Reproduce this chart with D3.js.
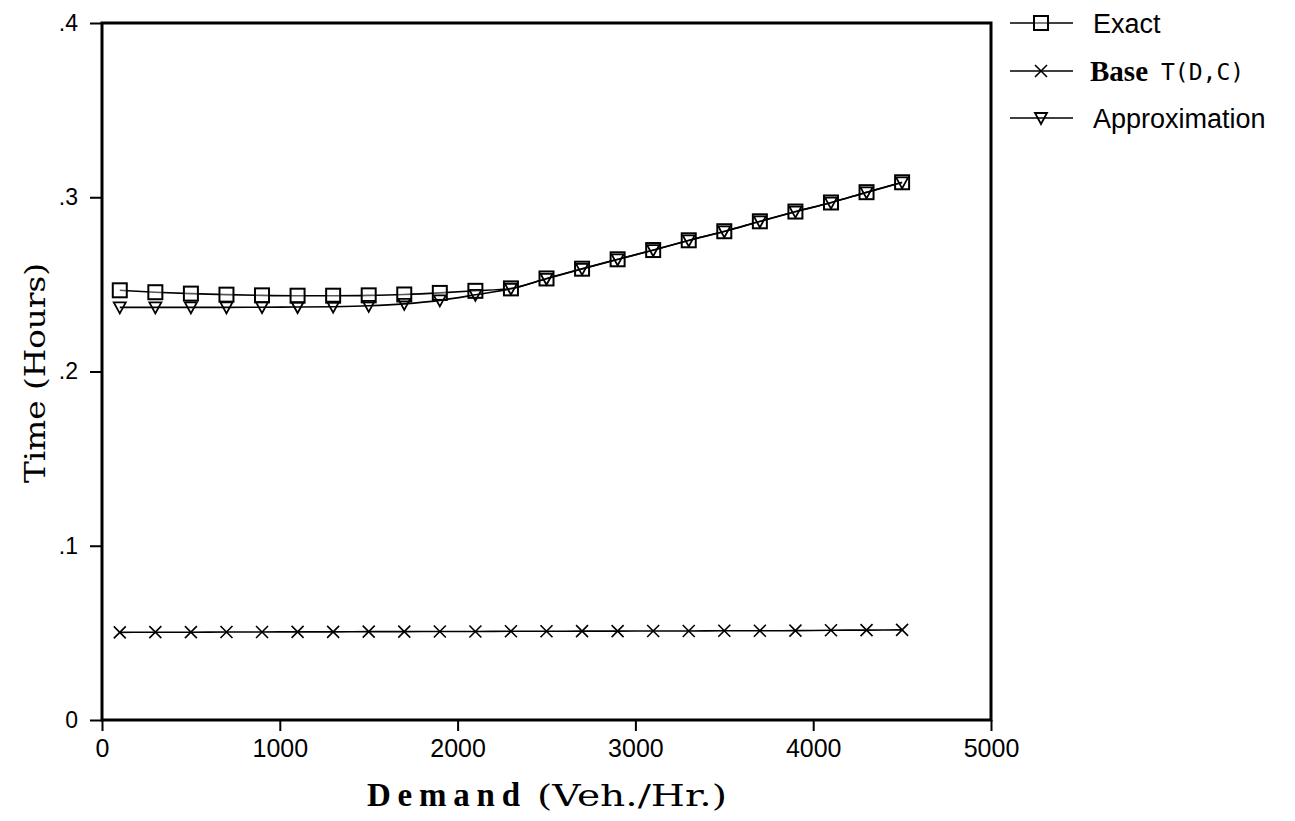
<!DOCTYPE html>
<html>
<head>
<meta charset="utf-8">
<script src="https://cdn.jsdelivr.net/npm/d3@7"></script>
<style>
  body { margin: 0; background: #fff; }
  svg { display: block; }
</style>
</head>
<body>
<div class="container"></div>
<script>
// values
var demand = [100, 300, 500, 700, 900, 1100, 1300, 1500, 1700, 1900, 2100, 2300,
              2500, 2700, 2900, 3100, 3300, 3500, 3700, 3900, 4100, 4300, 4500];
var exact = [0.2466, 0.2455, 0.2447, 0.2441, 0.2437, 0.2435, 0.2435, 0.2437, 0.2442, 0.2451, 0.2463, 0.2477,
             0.2534, 0.2590, 0.2644, 0.2697, 0.2753, 0.2805, 0.2862, 0.2918, 0.2970, 0.3029, 0.3086];
var approx = [0.2368, 0.2368, 0.2368, 0.2368, 0.2369, 0.2370, 0.2372, 0.2377, 0.2388, 0.2408, 0.2440, 0.2475,
              0.2532, 0.2589, 0.2643, 0.2696, 0.2752, 0.2804, 0.2861, 0.2917, 0.2969, 0.3028, 0.3085];
var base = [0.0503, 0.0504, 0.0504, 0.0505, 0.0505, 0.0506, 0.0506, 0.0507, 0.0507, 0.0508, 0.0508, 0.0509,
            0.0509, 0.0510, 0.0510, 0.0511, 0.0511, 0.0512, 0.0512, 0.0513, 0.0515, 0.0516, 0.0517];
var xTicks = [0, 1000, 2000, 3000, 4000, 5000];
var xTickLabels = ["0", "1000", "2000", "3000", "4000", "5000"];
var yTicks = [0, 0.1, 0.2, 0.3, 0.4];
var yTickLabels = ["0", ".1", ".2", ".3", ".4"];

!function () {
    var W = 1295, H = 821;
    var svg = d3.select('.container')
        .append('svg')
        .attr('width', W)
        .attr('height', H);

    var x = d3.scaleLinear().domain([0, 5000]).range([102, 991]);
    var y = d3.scaleLinear().domain([0, 0.4]).range([720, 23]);

    // axes (ticks only, frame drawn separately)
    var xAxis = d3.axisBottom(x)
        .tickValues(xTicks)
        .tickFormat(function (d, i) { return xTickLabels[i]; })
        .tickSize(11)
        .tickPadding(8);
    var gx = svg.append('g')
        .attr('transform', 'translate(0,720)')
        .call(xAxis);
    gx.select('.domain').remove();
    gx.selectAll('line').attr('stroke', '#000').attr('stroke-width', 2);
    gx.selectAll('text')
        .attr('fill', '#000')
        .style('font-family', '"Liberation Sans", Arial, sans-serif')
        .style('font-size', '25px');

    var yAxis = d3.axisLeft(y)
        .tickValues(yTicks)
        .tickFormat(function (d, i) { return yTickLabels[i]; })
        .tickSize(12)
        .tickPadding(12);
    var gy = svg.append('g')
        .attr('transform', 'translate(102,0)')
        .call(yAxis);
    gy.select('.domain').remove();
    gy.selectAll('line').attr('stroke', '#000').attr('stroke-width', 2);
    gy.selectAll('text')
        .attr('fill', '#000')
        .style('font-family', '"Liberation Sans", Arial, sans-serif')
        .style('font-size', '23px');

    // frame
    svg.append('rect')
        .attr('x', x(0))
        .attr('y', y(0.4))
        .attr('width', x(5000) - x(0))
        .attr('height', y(0) - y(0.4))
        .attr('fill', 'none')
        .attr('stroke', '#000')
        .attr('stroke-width', 3);

    // series lines
    var line = d3.line()
        .x(function (d) { return x(d[0]); })
        .y(function (d) { return y(d[1]); })
        .curve(d3.curveMonotoneX);

    var series = [
        { name: 'exact', values: exact, marker: 'square' },
        { name: 'base', values: base, marker: 'cross' },
        { name: 'approx', values: approx, marker: 'tri' }
    ];

    function drawMarker(g, type, cx, cy) {
        if (type === 'square') {
            g.append('rect')
                .attr('x', cx - 7).attr('y', cy - 7)
                .attr('width', 14).attr('height', 14)
                .attr('fill', '#fff')
                .attr('fill-opacity', 0.35)
                .attr('stroke', '#000').attr('stroke-width', 2);
        } else if (type === 'cross') {
            g.append('path')
                .attr('d', 'M' + (cx - 6) + ',' + (cy - 6) + 'L' + (cx + 6) + ',' + (cy + 6) +
                           'M' + (cx - 6) + ',' + (cy + 6) + 'L' + (cx + 6) + ',' + (cy - 6))
                .attr('stroke', '#000').attr('stroke-width', 1.6);
        } else {
            g.append('path')
                .attr('d', 'M' + (cx - 6) + ',' + (cy - 5) + 'L' + (cx + 6) + ',' + (cy - 5) +
                           'L' + cx + ',' + (cy + 6) + 'Z')
                .attr('fill', 'none')
                .attr('stroke', '#000').attr('stroke-width', 1.8);
        }
    }

    series.forEach(function (s) {
        var pts = demand.map(function (d, i) { return [d, s.values[i]]; });
        svg.append('path')
            .datum(pts)
            .attr('d', line)
            .attr('fill', 'none')
            .attr('stroke', '#000')
            .attr('stroke-width', 1.6);
        var g = svg.append('g');
        pts.forEach(function (p) {
            drawMarker(g, s.marker, x(p[0]), y(p[1]));
        });
    });

    // legend
    var legendY = [23, 71, 118];
    var lg = svg.append('g');
    series.forEach(function (s, i) {
        lg.append('line')
            .attr('x1', 1010).attr('x2', 1073)
            .attr('y1', legendY[i]).attr('y2', legendY[i])
            .attr('stroke', '#000').attr('stroke-width', 1.6);
        drawMarker(lg, s.marker, 1041, legendY[i]);
    });
    lg.append('text').attr('x', 1093).attr('y', legendY[0] + 10)
        .style('font-family', '"Liberation Sans", Arial, sans-serif')
        .style('font-size', '27px')
        .text('Exact');
    lg.append('text').attr('x', 1090).attr('y', legendY[1] + 10)
        .style('font-family', '"Liberation Serif", "Times New Roman", serif')
        .style('font-weight', 'bold')
        .style('font-size', '29px')
        .text('Base');
    lg.append('text').attr('x', 1161).attr('y', legendY[1] + 9)
        .style('font-family', '"DejaVu Sans Mono", monospace')
        .style('font-size', '23px')
        .text('T(D,C)');
    lg.append('text').attr('x', 1093).attr('y', legendY[2] + 10)
        .style('font-family', '"Liberation Sans", Arial, sans-serif')
        .style('font-size', '27px')
        .text('Approximation');

    // axis titles
    svg.append('text')
        .attr('x', 367).attr('y', 806)
        .attr('textLength', 153)
        .attr('lengthAdjust', 'spacing')
        .style('font-family', '"Liberation Serif", "Times New Roman", serif')
        .style('font-weight', 'bold')
        .style('font-size', '33px')
        .text('Demand');
    svg.append('text')
        .attr('x', 537).attr('y', 806)
        .attr('textLength', 190)
        .attr('lengthAdjust', 'spacingAndGlyphs')
        .style('font-family', '"DejaVu Serif", serif')
        .style('font-size', '30px')
        .text('(Veh./Hr.)');

    svg.append('text')
        .attr('transform', 'translate(45,373) rotate(-90)')
        .attr('text-anchor', 'middle')
        .attr('textLength', 220)
        .attr('lengthAdjust', 'spacingAndGlyphs')
        .style('font-family', '"DejaVu Serif", serif')
        .style('font-size', '28px')
        .text('Time (Hours)');
}();
</script>
</body>
</html>
